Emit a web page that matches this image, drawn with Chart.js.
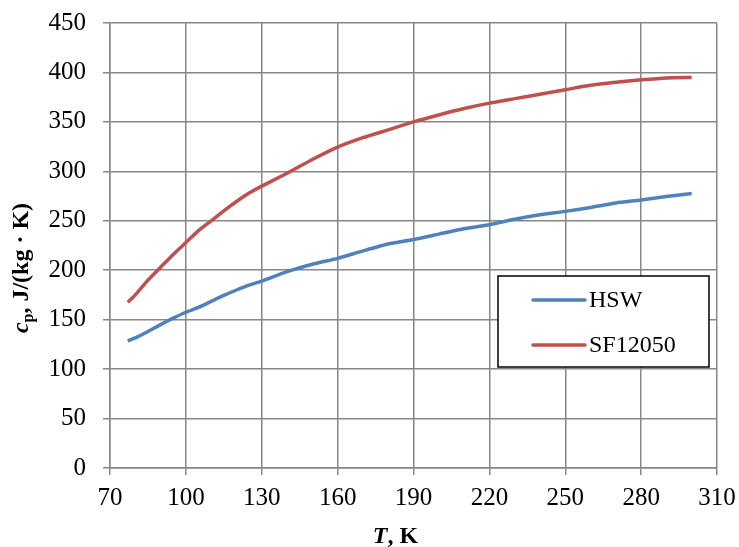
<!DOCTYPE html>
<html>
<head>
<meta charset="utf-8">
<script src="https://cdn.jsdelivr.net/npm/chart.js@4/dist/chart.umd.min.js"></script>
<style>
html,body{margin:0;padding:0;background:#fff;}
#wrap{width:739px;height:547px;}
</style>
</head>
<body>
<div id="wrap"><canvas id="c" width="739" height="547"></canvas></div>
<script>
// Temperature, K
const temps = [77, 80, 85, 90, 95, 100, 105, 110, 115, 120, 125, 130, 140, 150, 160, 170, 180, 190, 200, 210, 220, 230, 240, 250, 260, 270, 280, 290, 300];
// c_p, J/(kg·K)
const hswValues = [128.5, 131.5, 138, 145, 151.5, 157.5, 162.5, 168.5, 174.5, 180, 185, 189, 198.5, 206, 212, 219.5, 226.5, 231, 236.5, 242, 246, 251.5, 256, 259.5, 263.5, 268, 271, 274.5, 277.5];
const sfValues = [167.5, 175, 190, 203, 216, 228, 240, 250, 260, 269.5, 278, 285, 298, 312, 324.5, 334, 342, 350, 357, 363.5, 369, 373.5, 378, 382.5, 387, 390, 392.5, 394.5, 395];
const seriesNames = ['HSW', 'SF12050'];
const xTicks = {min: 70, max: 310, step: 30};
const yTicks = {min: 0, max: 450, step: 50};

const FONT = "'Liberation Serif', 'Times New Roman', serif";
const colors = ['#4F81BD', '#C0504D'];

const toPts = (vals) => temps.map((t, i) => ({x: t, y: vals[i]}));

const decor = {
  id: 'decor',
  afterDraw(chart) {
    const ctx = chart.ctx;
    // y axis title (rotated, with italic c and subscript p)
    ctx.save();
    ctx.translate(28, 268);
    ctx.rotate(-Math.PI / 2);
    const parts = [
      {t: 'c', f: 'italic bold 24px ' + FONT, dy: 0},
      {t: 'p', f: 'bold 16px ' + FONT, dy: 5},
      {t: ', J/(kg · K)', f: 'bold 24px ' + FONT, dy: 0}
    ];
    let total = 0;
    parts.forEach(p => { ctx.font = p.f; total += ctx.measureText(p.t).width; });
    let x = -total / 2;
    ctx.fillStyle = '#000';
    ctx.textBaseline = 'alphabetic';
    ctx.textAlign = 'left';
    parts.forEach(p => { ctx.font = p.f; ctx.fillText(p.t, x, p.dy); x += ctx.measureText(p.t).width; });
    ctx.restore();

    // x axis title
    ctx.save();
    const xp = [
      {t: 'T', f: 'italic bold 24px ' + FONT},
      {t: ', K', f: 'bold 24px ' + FONT}
    ];
    let tw = 0;
    xp.forEach(p => { ctx.font = p.f; tw += ctx.measureText(p.t).width; });
    let xx = 395.5 - tw / 2;
    ctx.fillStyle = '#000';
    ctx.textBaseline = 'alphabetic';
    xp.forEach(p => { ctx.font = p.f; ctx.fillText(p.t, xx, 543); xx += ctx.measureText(p.t).width; });
    ctx.restore();

    // legend box
    ctx.save();
    ctx.fillStyle = '#fff';
    ctx.fillRect(498, 276, 211, 91);
    ctx.strokeStyle = '#000';
    ctx.lineWidth = 1.5;
    ctx.strokeRect(498, 276, 211, 91);
    const ys = [300, 345];
    chart.data.datasets.forEach((ds, i) => {
      ctx.strokeStyle = ds.borderColor;
      ctx.lineWidth = 3.5;
      ctx.lineCap = 'round';
      ctx.beginPath();
      ctx.moveTo(533, ys[i]);
      ctx.lineTo(585, ys[i]);
      ctx.stroke();
      ctx.fillStyle = '#000';
      ctx.font = '24px ' + FONT;
      ctx.textBaseline = 'middle';
      ctx.textAlign = 'left';
      ctx.fillText(ds.label, 589, ys[i] + 1);
    });
    ctx.restore();
  }
};

new Chart(document.getElementById('c'), {
  type: 'scatter',
  data: {
    datasets: [
      {label: seriesNames[0], data: toPts(hswValues), showLine: true, borderColor: colors[0], backgroundColor: colors[0], borderWidth: 3.5, pointRadius: 0, tension: 0.2},
      {label: seriesNames[1], data: toPts(sfValues), showLine: true, borderColor: colors[1], backgroundColor: colors[1], borderWidth: 3.5, pointRadius: 0, tension: 0.2}
    ]
  },
  options: {
    responsive: false,
    animation: false,
    devicePixelRatio: 1,
    layout: {padding: {left: 0, right: 22, top: 23, bottom: 0}},
    plugins: {legend: {display: false}, tooltip: {enabled: false}},
    scales: {
      x: {
        type: 'linear',
        min: xTicks.min, max: xTicks.max,
        ticks: {stepSize: xTicks.step, color: '#000', font: {family: FONT, size: 25, lineHeight: '47px'}, padding: 0, maxRotation: 0},
        grid: {color: '#878787', lineWidth: 1.5, tickLength: 7, tickColor: '#878787'},
        border: {color: '#878787', width: 1.5},
        afterFit(s) { s.height = 79; }
      },
      y: {
        min: yTicks.min, max: yTicks.max,
        ticks: {stepSize: yTicks.step, color: '#000', font: {family: FONT, size: 25, lineHeight: '10px'}, padding: 17},
        grid: {color: '#878787', lineWidth: 1.5, tickLength: 7, tickColor: '#878787'},
        border: {color: '#878787', width: 1.5},
        afterFit(s) { s.width = 110; }
      }
    }
  },
  plugins: [decor]
});
</script>
</body>
</html>
